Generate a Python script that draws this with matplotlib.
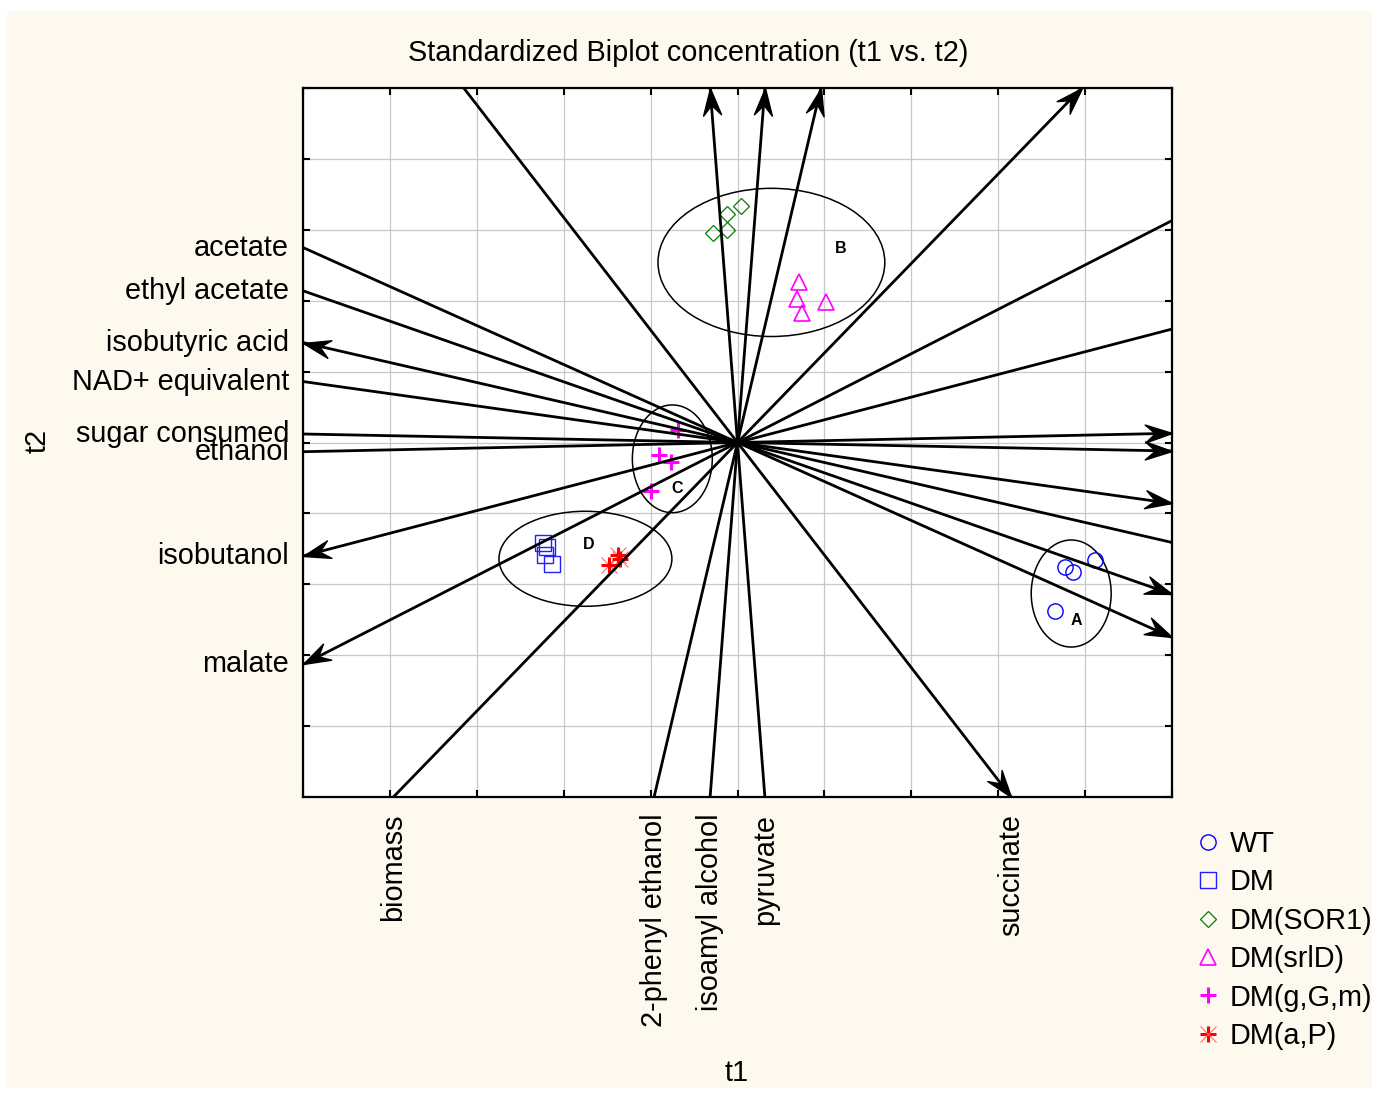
import numpy as np
import matplotlib
matplotlib.use("Agg")
import matplotlib.pyplot as plt
from matplotlib.patches import Ellipse, Rectangle
from matplotlib.path import Path
from matplotlib.markers import MarkerStyle
from matplotlib.transforms import Affine2D

plt.rcParams['font.family'] = ['Liberation Sans', 'DejaVu Sans']

# ---- variable loadings (t1, t2) ----
variables = ["acetate", "ethyl acetate", "isobutyric acid", "NAD+ equivalent",
             "sugar consumed", "ethanol", "isobutanol", "malate",
             "biomass", "2-phenyl ethanol", "isoamyl alcohol", "pyruvate", "succinate"]
load_t1 = [5.0, 5.0, -5.0, 5.0, 5.0, 5.0, -5.0, -5.0, 3.96, 0.96, 0.315, -0.315, 3.15]
load_t2 = [-2.75, -2.14, 1.41, -0.86, -0.12, 0.13, -1.60, -3.13, 5.0, 5.0, 5.0, 5.0, -5.0]

# ---- sample scores (t1, t2) ----
wt_t1 = [3.77, 3.86, 4.11, 3.65]
wt_t2 = [-1.76, -1.83, -1.66, -2.38]
dm_t1 = [-2.24, -2.19, -2.21, -2.14]
dm_t2 = [-1.42, -1.47, -1.58, -1.72]
sor1_t1 = [-0.28, -0.12, -0.12, 0.035]
sor1_t2 = [2.95, 3.22, 3.00, 3.33]
srld_t1 = [0.71, 0.69, 0.74, 1.02]
srld_t2 = [2.26, 2.03, 1.83, 1.98]
ggm_t1 = [-0.69, -0.90, -0.76, -0.99]
ggm_t2 = [0.17, -0.18, -0.28, -0.68]
ap_t1 = [-1.38, -1.48, -1.35]
ap_t2 = [-1.59, -1.73, -1.65]

# ---- cluster ellipses: label, centre t1, centre t2, width, height ----
groups = ["A", "B", "C", "D"]
grp_t1 = [3.84, 0.39, -0.75, -1.75]
grp_t2 = [-2.13, 2.54, -0.23, -1.64]
grp_w = [0.92, 2.61, 0.92, 1.99]
grp_h = [1.51, 2.09, 1.52, 1.34]
grp_lab_t1 = [3.90, 1.19, -0.69, -1.71]
grp_lab_t2 = [-2.51, 2.74, -0.65, -1.44]

W, H = 1379, 1095
fig = plt.figure(figsize=(W / 100, H / 100), dpi=100, facecolor="white")
fig.add_artist(Rectangle((7 / W, 7 / H), (W - 14) / W, (H - 18) / H,
                         transform=fig.transFigure, facecolor="#FEF9EE",
                         edgecolor="none", zorder=0))

ax = fig.add_axes([303 / W, 1 - 797 / H, (1172 - 303) / W, (797 - 88) / H])
ax.set_facecolor("white")
ax.set_xlim(-5, 5)
ax.set_ylim(-5, 5)
ax.set_xticks(np.arange(-5, 6, 1))
ax.set_yticks(np.arange(-5, 6, 1))
ax.grid(True, color="#c8c8c8", lw=0.9, zorder=0)
ax.set_axisbelow(True)
ax.tick_params(direction="in", length=5, width=1.5, top=True, right=True,
               labelbottom=False, labelleft=False)
for sp in ax.spines.values():
    sp.set_linewidth(1.6)

FS = 20.8

# arrowhead shape (tip at origin, pointing +x)
head = Path([(0, 0), (-27, 9), (-17, 0), (-27, -9), (0, 0)],
            [Path.MOVETO, Path.LINETO, Path.LINETO, Path.LINETO, Path.CLOSEPOLY])

lim = 5.0
for name, lx, ly in zip(variables, load_t1, load_t2):
    s = lim / max(abs(lx), abs(ly))
    tx, ty = lx * s, ly * s
    ax.plot([-tx, tx], [-ty, ty], color="black", lw=2.0, zorder=3,
            solid_capstyle="butt", clip_on=False)
    p0 = ax.transData.transform((0, 0))
    p1 = ax.transData.transform((tx, ty))
    ang = np.degrees(np.arctan2(p1[1] - p0[1], p1[0] - p0[0]))
    ax.plot([tx], [ty], marker=MarkerStyle(head, transform=Affine2D().rotate_deg(ang)),
            markersize=39, color="black", zorder=4, clip_on=False, lw=0)
    # label at the end lying on the left or bottom frame
    for ex, ey in ((tx, ty), (-tx, -ty)):
        if abs(ex + lim) < 1e-9:
            ax.annotate(name, (ex, ey), xytext=(-10, 0), textcoords="offset points",
                        ha="right", va="center", fontsize=FS, annotation_clip=False)
            break
        if abs(ey + lim) < 1e-9:
            ax.annotate(name, (ex, ey), xytext=(0, -12), textcoords="offset points",
                        ha="center", va="top", rotation=90, fontsize=FS,
                        annotation_clip=False)
            break

# ellipses and group letters
for g, cx, cy, w, h, gx, gy in zip(groups, grp_t1, grp_t2, grp_w, grp_h,
                                    grp_lab_t1, grp_lab_t2):
    ax.add_patch(Ellipse((cx, cy), w, h, fill=False, edgecolor="black", lw=1.1, zorder=2))
    ax.text(gx, gy, g, ha="center", va="center", fontsize=11.5, fontweight="bold", zorder=5)

# sample scores
h_wt, = ax.plot(wt_t1, wt_t2, "o", ms=11, mfc="none", mec="#0000FF", mew=1.0, ls="none", zorder=2.5)
h_dm, = ax.plot(dm_t1, dm_t2, "s", ms=11, mfc="none", mec="#2020FF", mew=1.0, ls="none", zorder=2.5)
h_sor, = ax.plot(sor1_t1, sor1_t2, "D", ms=8, mfc="none", mec="#008000", mew=0.9, ls="none", zorder=2.5)
h_srl, = ax.plot(srld_t1, srld_t2, "^", ms=11, mfc="none", mec="#FF00FF", mew=1.2, ls="none", zorder=2.5)
h_ggm, = ax.plot(ggm_t1, ggm_t2, "+", ms=12, mec="#FF00FF", mew=2.2, ls="none", zorder=2.5)
h_ap1, = ax.plot(ap_t1, ap_t2, "+", ms=12, mec="#FF0000", mew=2.2, ls="none", zorder=2.5)
h_ap2, = ax.plot(ap_t1, ap_t2, "x", ms=11, mec="#FF6060", mew=0.7, ls="none", zorder=2.4)

fig.text(688 / W, 1 - 53 / H, "Standardized Biplot concentration (t1 vs. t2)",
         ha="center", va="center", fontsize=FS)
fig.text(737 / W, 1 - 1073 / H, "t1", ha="center", va="center", fontsize=FS)
fig.text(38 / W, 1 - 441 / H, "t2", ha="center", va="center", rotation=90, fontsize=FS)

fig.legend([h_wt, h_dm, h_sor, h_srl, h_ggm, (h_ap1, h_ap2)],
           ["WT", "DM", "DM(SOR1)", "DM(srlD)", "DM(g,G,m)", "DM(a,P)"],
           loc="upper left", bbox_to_anchor=(1194 / W, 1 - 830 / H),
           frameon=False, fontsize=FS, handlelength=1.0, handletextpad=0.25,
           labelspacing=0.36, borderpad=0, borderaxespad=0)

fig.savefig("out.png", dpi=100, facecolor="white")
